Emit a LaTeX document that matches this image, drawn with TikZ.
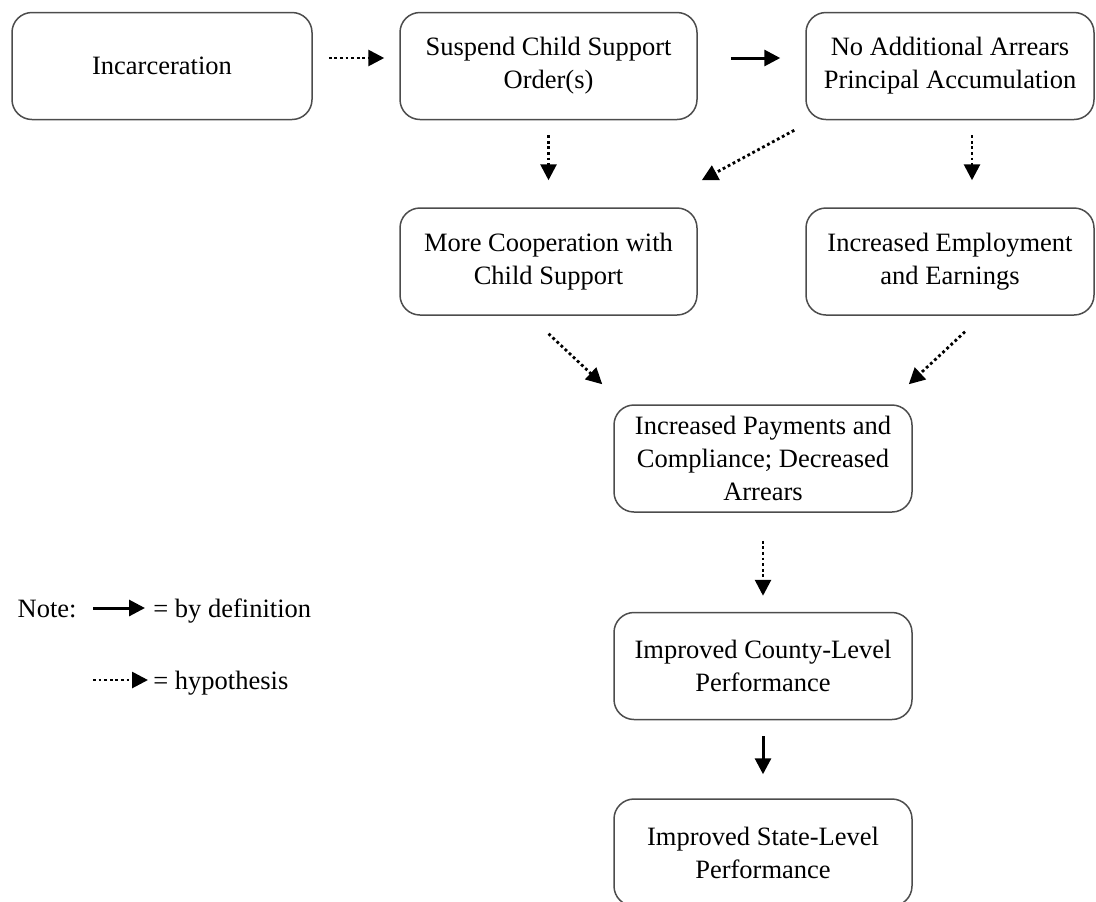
\documentclass[tikz,border=0pt]{standalone}
\usepackage{fontspec}
\setmainfont{Liberation Serif}
\usetikzlibrary{arrows.meta,calc}
\begin{document}
\begin{tikzpicture}[x=0.5pt,y=-0.5pt,
  txt/.style={inner sep=0pt, font=\fontsize{13.25}{16.5}\selectfont},
  box/.style={txt, draw=black!70, line width=0.75pt, rounded corners=10pt,
    minimum height=53.5pt, align=center},
  bydef/.style={line width=1.5pt, -{Triangle[length=8pt,width=8pt]}},
  hyp/.style={line width=1.4pt, dash pattern=on 1.4pt off 1.4pt, -{Triangle[length=8pt,width=8pt]}}]
  \useasboundingbox (0,0) rectangle (1096,901);
  \node[box, minimum width=150pt] (incar) at (162,66) {Incarceration};
  \node[box, minimum width=148.5pt] (susp) at (548.5,66) {Suspend Child Support\\Order(s)};
  \node[box, minimum width=144pt] (noarr) at (950,66) {No Additional Arrears\\Principal Accumulation};
  \node[box, minimum width=148.5pt] (coop) at (548.5,261.5) {More Cooperation with\\Child Support};
  \node[box, minimum width=144pt] (employ) at (950,261.5) {Increased Employment\\and Earnings};
  \node[box, minimum width=149pt] (pay) at (763,458.5) {Increased Payments and\\Compliance; Decreased\\Arrears};
  \node[box, minimum width=149pt] (county) at (763,666) {Improved County-Level\\Performance};
  \node[box, minimum width=149pt] (state) at (763,852.5) {Improved State-Level\\Performance};
  \draw[hyp] ($(incar.east)+(16,-8)$) -- ($(susp.west)+(-15,-8)$);
  \draw[bydef] ($(susp.east)+(33,-8)$) -- ($(noarr.west)+(-25,-8)$);
  \draw[hyp] ($(susp.south)+(0,15)$) -- ($(coop.north)+(0,-27)$);
  \draw[hyp] ($(noarr.south west)+(-11,10)$) -- ($(coop.north east)+(4,-27)$);
  \draw[hyp] ($(noarr.south)+(22,15)$) -- ($(employ.north)+(22,-27)$);
  \draw[hyp] ($(coop.south)+(0,18)$) -- ($(pay.north west)+(-11,-20)$);
  \draw[hyp] ($(employ.south)+(15,16)$) -- ($(pay.north east)+(-4,-20)$);
  \draw[hyp] ($(pay.south)+(0,28)$) -- ($(county.north)+(0,-16)$);
  \draw[bydef] ($(county.south)+(0,16)$) -- ($(state.north)+(0,-24)$);
  \node[txt, anchor=base east] (note) at (77,617) {Note:};
  \node[txt, anchor=base west] (deflbl) at (153,617) {= by definition};
  \coordinate (hypstart) at (93,689);
  \node[txt, anchor=base west] (hyplbl) at (153,689) {= hypothesis};
  \draw[bydef] ($(note.base east)+(16,-9)$) -- ($(deflbl.base west)+(-8,-9)$);
  \draw[hyp] ($(hypstart)+(0,-9)$) -- ($(hyplbl.base west)+(-5,-9)$);
\end{tikzpicture}
\end{document}
